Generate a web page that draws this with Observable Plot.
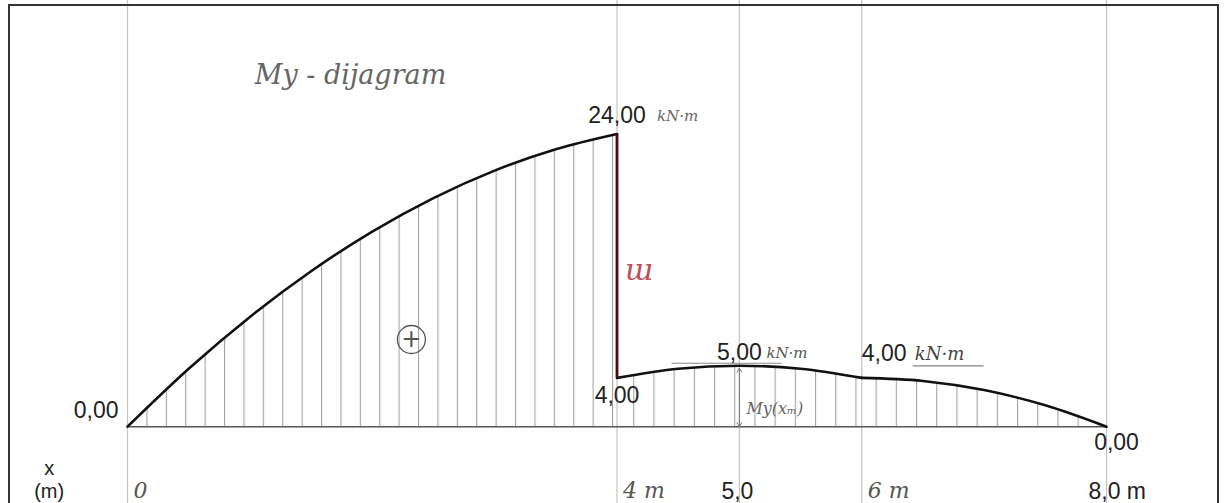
<!DOCTYPE html>
<html><head><meta charset="utf-8">
<script src="https://cdn.jsdelivr.net/npm/d3@7"></script>
<script src="https://cdn.jsdelivr.net/npm/@observablehq/plot@0.6"></script>
<style>
body{margin:0;background:#fff;overflow:hidden}
#wrap{position:relative;width:1225px;height:503px;background:#fff}
#border{position:absolute;left:8px;top:4px;width:1211px;height:520px;border:2px solid #333;pointer-events:none;box-sizing:border-box}
</style></head>
<body><div id="wrap"><div id="border"></div></div>
<script>
// ---- data ----
const leftX  = [0, 0.5, 1, 1.5, 2, 2.5, 3, 3.5, 4];
const leftM  = [0, 4.75, 9, 12.75, 16, 18.75, 21, 22.75, 24];
const midX   = [4, 4.5, 5, 5.5, 6];
const midM   = [4, 4.75, 5, 4.75, 4];
const endX   = [6, 6.5, 7, 7.5, 8];
const endM   = [4, 3.75, 3, 1.75, 0];
const gridX  = [0, 4, 5, 6, 8];
const tickLabels = ["0", "4 m", "5,0", "6 m", "8,0 m"];
const jumpX = 4, jumpFrom = 4, jumpTo = 24;
const maxX = 5, maxM = 5;

const left = leftX.map((x, i) => ({x, m: leftM[i]}));
const mid = midX.map((x, i) => ({x, m: midM[i]}));
const end = endX.map((x, i) => ({x, m: endM[i]}));
const right = mid.concat(end.slice(1));
const ticks = gridX.map((x, i) => ({x, label: tickLabels[i]}));
const handTicks = ticks.filter(d => !d.label.includes(","));
const printTicks = ticks.filter(d => d.label.includes(","));

const num = {fontFamily: "Liberation Sans, Arial, sans-serif", fontSize: 23, fill: "#222"};
const hand = {fontFamily: "DejaVu Serif, serif", fontStyle: "italic", fill: "#555"};

const chart = Plot.plot({
  width: 1225, height: 503,
  marginLeft: 127, marginRight: 119, marginTop: 0, marginBottom: 0,
  x: {domain: [0, 8], axis: null},
  y: {domain: [-6.3, 34.95], axis: null},
  style: {background: "transparent", overflow: "visible"},
  marks: [
    Plot.ruleX(gridX, {stroke: "#c4c4c4", strokeWidth: 1.2}),
    Plot.areaY(left, {x: "x", y: "m", fill: "url(#hatchL)"}),
    Plot.areaY(right, {x: "x", y: "m", fill: "url(#hatchR)"}),
    Plot.ruleY([0], {x1: 0, x2: 8, stroke: "#555", strokeWidth: 1.6}),
    Plot.lineY(left, {x: "x", y: "m", curve: "monotone-x", stroke: "#111", strokeWidth: 2.6}),
    Plot.lineY(mid, {x: "x", y: "m", curve: "monotone-x", stroke: "#111", strokeWidth: 2.6}),
    Plot.lineY(end, {x: "x", y: "m", curve: "monotone-x", stroke: "#111", strokeWidth: 2.6}),
    Plot.ruleX([jumpX], {y1: jumpFrom, y2: jumpTo, stroke: "#4a0c0c", strokeWidth: 2.8}),
    // tangent at maximum
    Plot.ruleY([maxM + 0.2], {x1: maxX - 0.55, x2: maxX + 0.35, stroke: "#888", strokeWidth: 1.2}),
    Plot.arrow([{x: maxX, a: maxM * 0.5, b: maxM - 0.2}, {x: maxX, a: maxM * 0.5, b: 0}],
      {x1: "x", x2: "x", y1: "a", y2: "b", stroke: "#777", strokeWidth: 1, headLength: 7}),
    Plot.text(["My(xm)"], {x: maxX, y: 1.5, dx: 7, textAnchor: "start", text: () => "My(x\u2098)", ...hand, fontSize: 16, fill: "#666"}),
    // value labels
    Plot.text(["0,00"], {x: 0, y: 0, dx: -9, dy: -16, textAnchor: "end", ...num}),
    Plot.text(["24,00"], {x: jumpX, y: jumpTo, dy: -18, ...num}),
    Plot.text(["kN·m"], {x: jumpX, y: jumpTo, dx: 40, dy: -18, textAnchor: "start", ...hand, fontSize: 15, fill: "#666"}),
    Plot.text(["4,00"], {x: jumpX, y: jumpFrom, dy: 18, ...num}),
    Plot.text(["5,00"], {x: maxX, y: maxM, dy: -13, ...num}),
    Plot.text(["kN·m"], {x: maxX, y: maxM, dx: 27, dy: -13, textAnchor: "start", ...hand, fontSize: 15}),
    Plot.text(["4,00"], {x: 6, y: 4, dy: -24, textAnchor: "start", ...num}),
    Plot.text(["kN·m"], {x: 6, y: 4, dx: 53, dy: -24, textAnchor: "start", ...hand, fontSize: 18, fill: "#444"}),
    Plot.ruleY([4], {x1: 6.42, x2: 7.0, dy: -12, stroke: "#666", strokeWidth: 1}),
    Plot.text(["0,00"], {x: 8, y: 0, dx: 10, dy: 16, ...num}),
    // jump mark and sign
    Plot.text(["ɯ"], {x: jumpX, y: 12.8, dx: 8, textAnchor: "start", fontFamily: "DejaVu Serif, serif", fontStyle: "italic", fontSize: 30, fill: "#c0505a"}),
    Plot.dot([0], {x: 2.32, y: 7.15, r: 14, stroke: "#555", strokeWidth: 1.3}),
    Plot.text(["+"], {x: 2.32, y: 7.15, fontSize: 24, fill: "#555", fontFamily: "DejaVu Sans"}),
    // title
    Plot.text(["My - dijagram"], {x: 1.04, y: 28.8, textAnchor: "start", ...hand, fontSize: 27, fill: "#666"}),
    // axis labels
    Plot.text(handTicks, {x: "x", y: -5.3, text: "label", textAnchor: "start", dx: 6, ...hand, fontSize: 22}),
    Plot.text(printTicks, {x: "x", y: -5.3, text: "label", dx: d => 0, ...num, fontSize: 23, textAnchor: "start", dx: -18}),
    Plot.text(["x"], {x: -0.64, y: -3.4, ...num, fontSize: 20}),
    Plot.text(["(m)"], {x: -0.64, y: -5.3, ...num, fontSize: 20})
  ]
});

// hatch patterns
const ns = "http://www.w3.org/2000/svg";
const svg = chart.tagName.toLowerCase() === "svg" ? chart : chart.querySelector("svg");
const defs = document.createElementNS(ns, "defs");
[["hatchL", 19.4, 127], ["hatchR", 20.2, 613]].forEach(([id, w, off]) => {
  const p = document.createElementNS(ns, "pattern");
  p.setAttribute("id", id);
  p.setAttribute("patternUnits", "userSpaceOnUse");
  p.setAttribute("width", w);
  p.setAttribute("height", 10);
  p.setAttribute("x", off);
  const l = document.createElementNS(ns, "line");
  l.setAttribute("x1", 0.6); l.setAttribute("x2", 0.6);
  l.setAttribute("y1", 0); l.setAttribute("y2", 10);
  l.setAttribute("stroke", "#9a9a9a");
  l.setAttribute("stroke-width", 1);
  p.appendChild(l);
  defs.appendChild(p);
});
svg.insertBefore(defs, svg.firstChild);
document.getElementById("wrap").prepend(chart);
</script>
</body></html>
